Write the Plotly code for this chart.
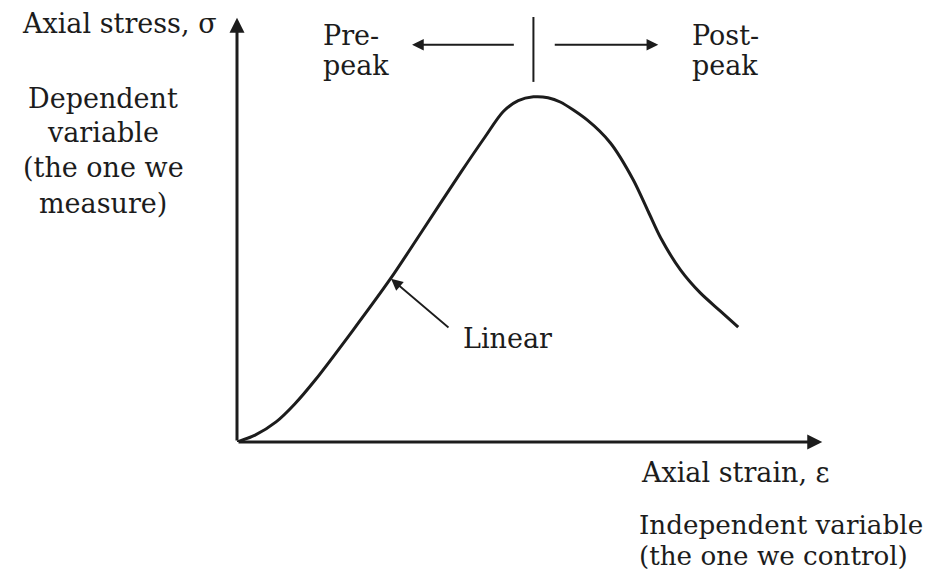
import plotly.graph_objects as go

# Stress-strain curve (arbitrary units)
strain = [0.0, 0.31, 0.67, 0.99, 1.34, 1.99, 2.64, 3.14, 3.83, 4.25, 4.56, 4.82, 5.08,
          5.33, 5.54, 6.00, 6.40, 6.79, 7.05, 7.26, 7.60, 7.94, 8.28, 8.59]
stress = [0.0, 0.16, 0.47, 0.89, 1.45, 2.62, 3.84, 4.87, 6.30, 7.14, 7.73, 7.99, 8.08,
          8.06, 7.96, 7.54, 7.00, 6.14, 5.39, 4.78, 4.03, 3.49, 3.07, 2.69]

y_label = "Axial stress, σ"
y_desc = ["Dependent", "variable", "(the one we", "measure)"]
x_label = "Axial strain, ε"
x_desc = ["Independent variable", "(the one we control)"]
pre_label = ["Pre-", "peak"]
post_label = ["Post-", "peak"]
linear_label = "Linear"

INK = "#1c1c1c"
FONT = "DejaVu Serif"
FS = 27

# plot geometry (page pixels): origin at (237, 442), 58.35 px per x unit, 42.72 px per y unit
X1, Y1 = 10.3, 10.16
PW, PH = 601, 434

def px(xs):  # page x pixel -> paper
    return (xs - 237) / PW

def py(ys):  # page y pixel -> paper
    return (442 - ys) / PH

fig = go.Figure()
fig.add_trace(go.Scatter(x=strain, y=stress, mode="lines",
                         line=dict(color=INK, width=3, shape="spline", smoothing=0.8),
                         hoverinfo="skip", showlegend=False))

def arrow(x, y, ax, ay, w=2.2, head=2, size=1.2):
    fig.add_annotation(x=x, y=y, ax=ax, ay=ay, xref="x", yref="y", axref="x", ayref="y",
                       text="", showarrow=True, arrowhead=head, arrowsize=size,
                       arrowwidth=w, arrowcolor=INK)

# axes
arrow(0, 9.93, 0, 0, w=3, size=1.0)
arrow(10.03, 0, 0, 0, w=3, size=1.0)
# pre/post arrows
arrow(3.00, 9.30, 4.77, 9.30, w=1.8, size=1.3)
arrow(7.22, 9.30, 5.42, 9.30, w=1.8, size=1.3)
# linear arrow
arrow(2.64, 3.82, 3.65, 2.65, w=1.8, size=1.3)

fig.add_shape(type="line", x0=5.08, x1=5.08, y0=8.43, y1=9.95, line=dict(color=INK, width=2))

def label(xs, ys, text, xanchor="left", size=FS):
    fig.add_annotation(x=px(xs), y=py(ys), xref="paper", yref="paper", text=text,
                       showarrow=False, xanchor=xanchor, yanchor="middle",
                       font=dict(family=FONT, size=size, color=INK))

label(219, 24, y_label, xanchor="right")
for t, yy in zip(y_desc, [98, 132, 168, 203]):
    label(103, yy, t, xanchor="center")
for t, yy in zip(pre_label, [35, 66]):
    label(321, yy, t)
for t, yy in zip(post_label, [35, 66]):
    label(690, yy, t)
label(461, 338, linear_label)
label(639, 472, x_label)
for t, yy in zip(x_desc, [525, 556]):
    label(637, yy, t, size=26.2)

fig.update_xaxes(range=[0, X1], visible=False)
fig.update_yaxes(range=[0, Y1], visible=False)
fig.update_layout(width=926, height=569, margin=dict(l=229, r=926 - 229 - PW, t=0, b=569 - PH),
                  plot_bgcolor="white", paper_bgcolor="white", showlegend=False)

fig.write_html("out.html")
